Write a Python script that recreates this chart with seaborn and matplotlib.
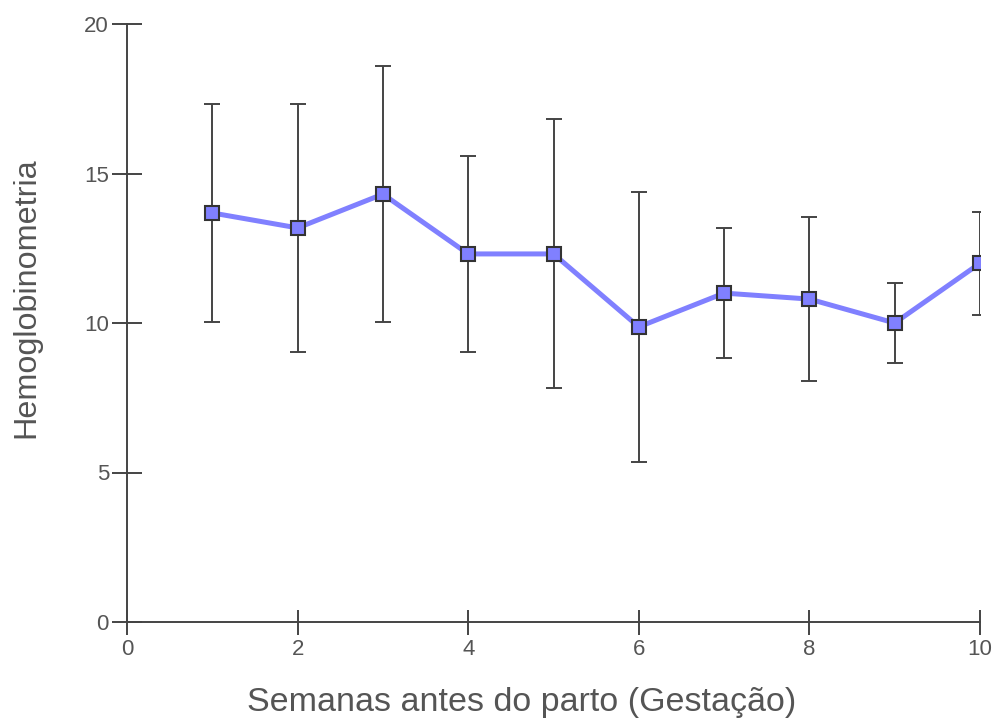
import matplotlib
matplotlib.use("Agg")
import matplotlib.pyplot as plt
import seaborn as sns
import pandas as pd

# Hemoglobin by weeks before delivery: mean and standard deviation
semanas = [1, 2, 3, 4, 5, 6, 7, 8, 9, 10]
media = [13.68, 13.18, 14.31, 12.31, 12.31, 9.87, 11.0, 10.8, 10.0, 12.0]
desvio = [3.66, 4.15, 4.28, 3.27, 4.50, 4.52, 2.17, 2.73, 1.35, 1.72]

x_ticks = [0, 2, 4, 6, 8, 10]
y_ticks = [0, 5, 10, 15, 20]

df = pd.DataFrame({"semana": semanas, "hb": media, "sd": desvio})

sns.set_style("white")
plt.rcParams["font.family"] = ["Liberation Sans", "DejaVu Sans"]

fig = plt.figure(figsize=(9.95, 7.23), dpi=100)
ax = fig.add_axes([127 / 995, 101 / 723, 853 / 995, 598 / 723])

ax.errorbar(df["semana"], df["hb"], yerr=df["sd"], fmt="none",
            ecolor="#444444", elinewidth=1.4, capsize=6, capthick=1.4, zorder=1)
sns.lineplot(data=df, x="semana", y="hb", ax=ax, color="#8080ff", linewidth=3.6,
             marker="s", markersize=9.5, markerfacecolor="#8080ff",
             markeredgecolor="#333333", markeredgewidth=1.5, zorder=3)

ax.set_xlim(0, 10)
ax.set_ylim(0, 20)
ax.set_xticks(x_ticks)
ax.set_yticks(y_ticks)
ax.set_xticklabels([str(v) for v in x_ticks])
ax.set_yticklabels([str(v) for v in y_ticks])

for side in ("top", "right"):
    ax.spines[side].set_visible(False)
for side in ("left", "bottom"):
    ax.spines[side].set_color("#444444")
    ax.spines[side].set_linewidth(1.4)

ax.tick_params(axis="y", direction="inout", length=22, width=1.4, color="#444444",
               labelsize=16, labelcolor="#555555", pad=2, left=True)
ax.tick_params(axis="x", direction="inout", length=18, width=1.4, color="#444444",
               labelsize=16, labelcolor="#555555", pad=3, bottom=True)

ax.set_xlabel("Semanas antes do parto (Gestação)", fontsize=24.5, color="#555555", labelpad=20)
ax.xaxis.label.set_x(0.463)
ax.set_ylabel("Hemoglobinometria", fontsize=23.3, color="#555555")
ax.yaxis.set_label_coords(-0.1, 0.542)

fig.savefig("out.png", dpi=100)
